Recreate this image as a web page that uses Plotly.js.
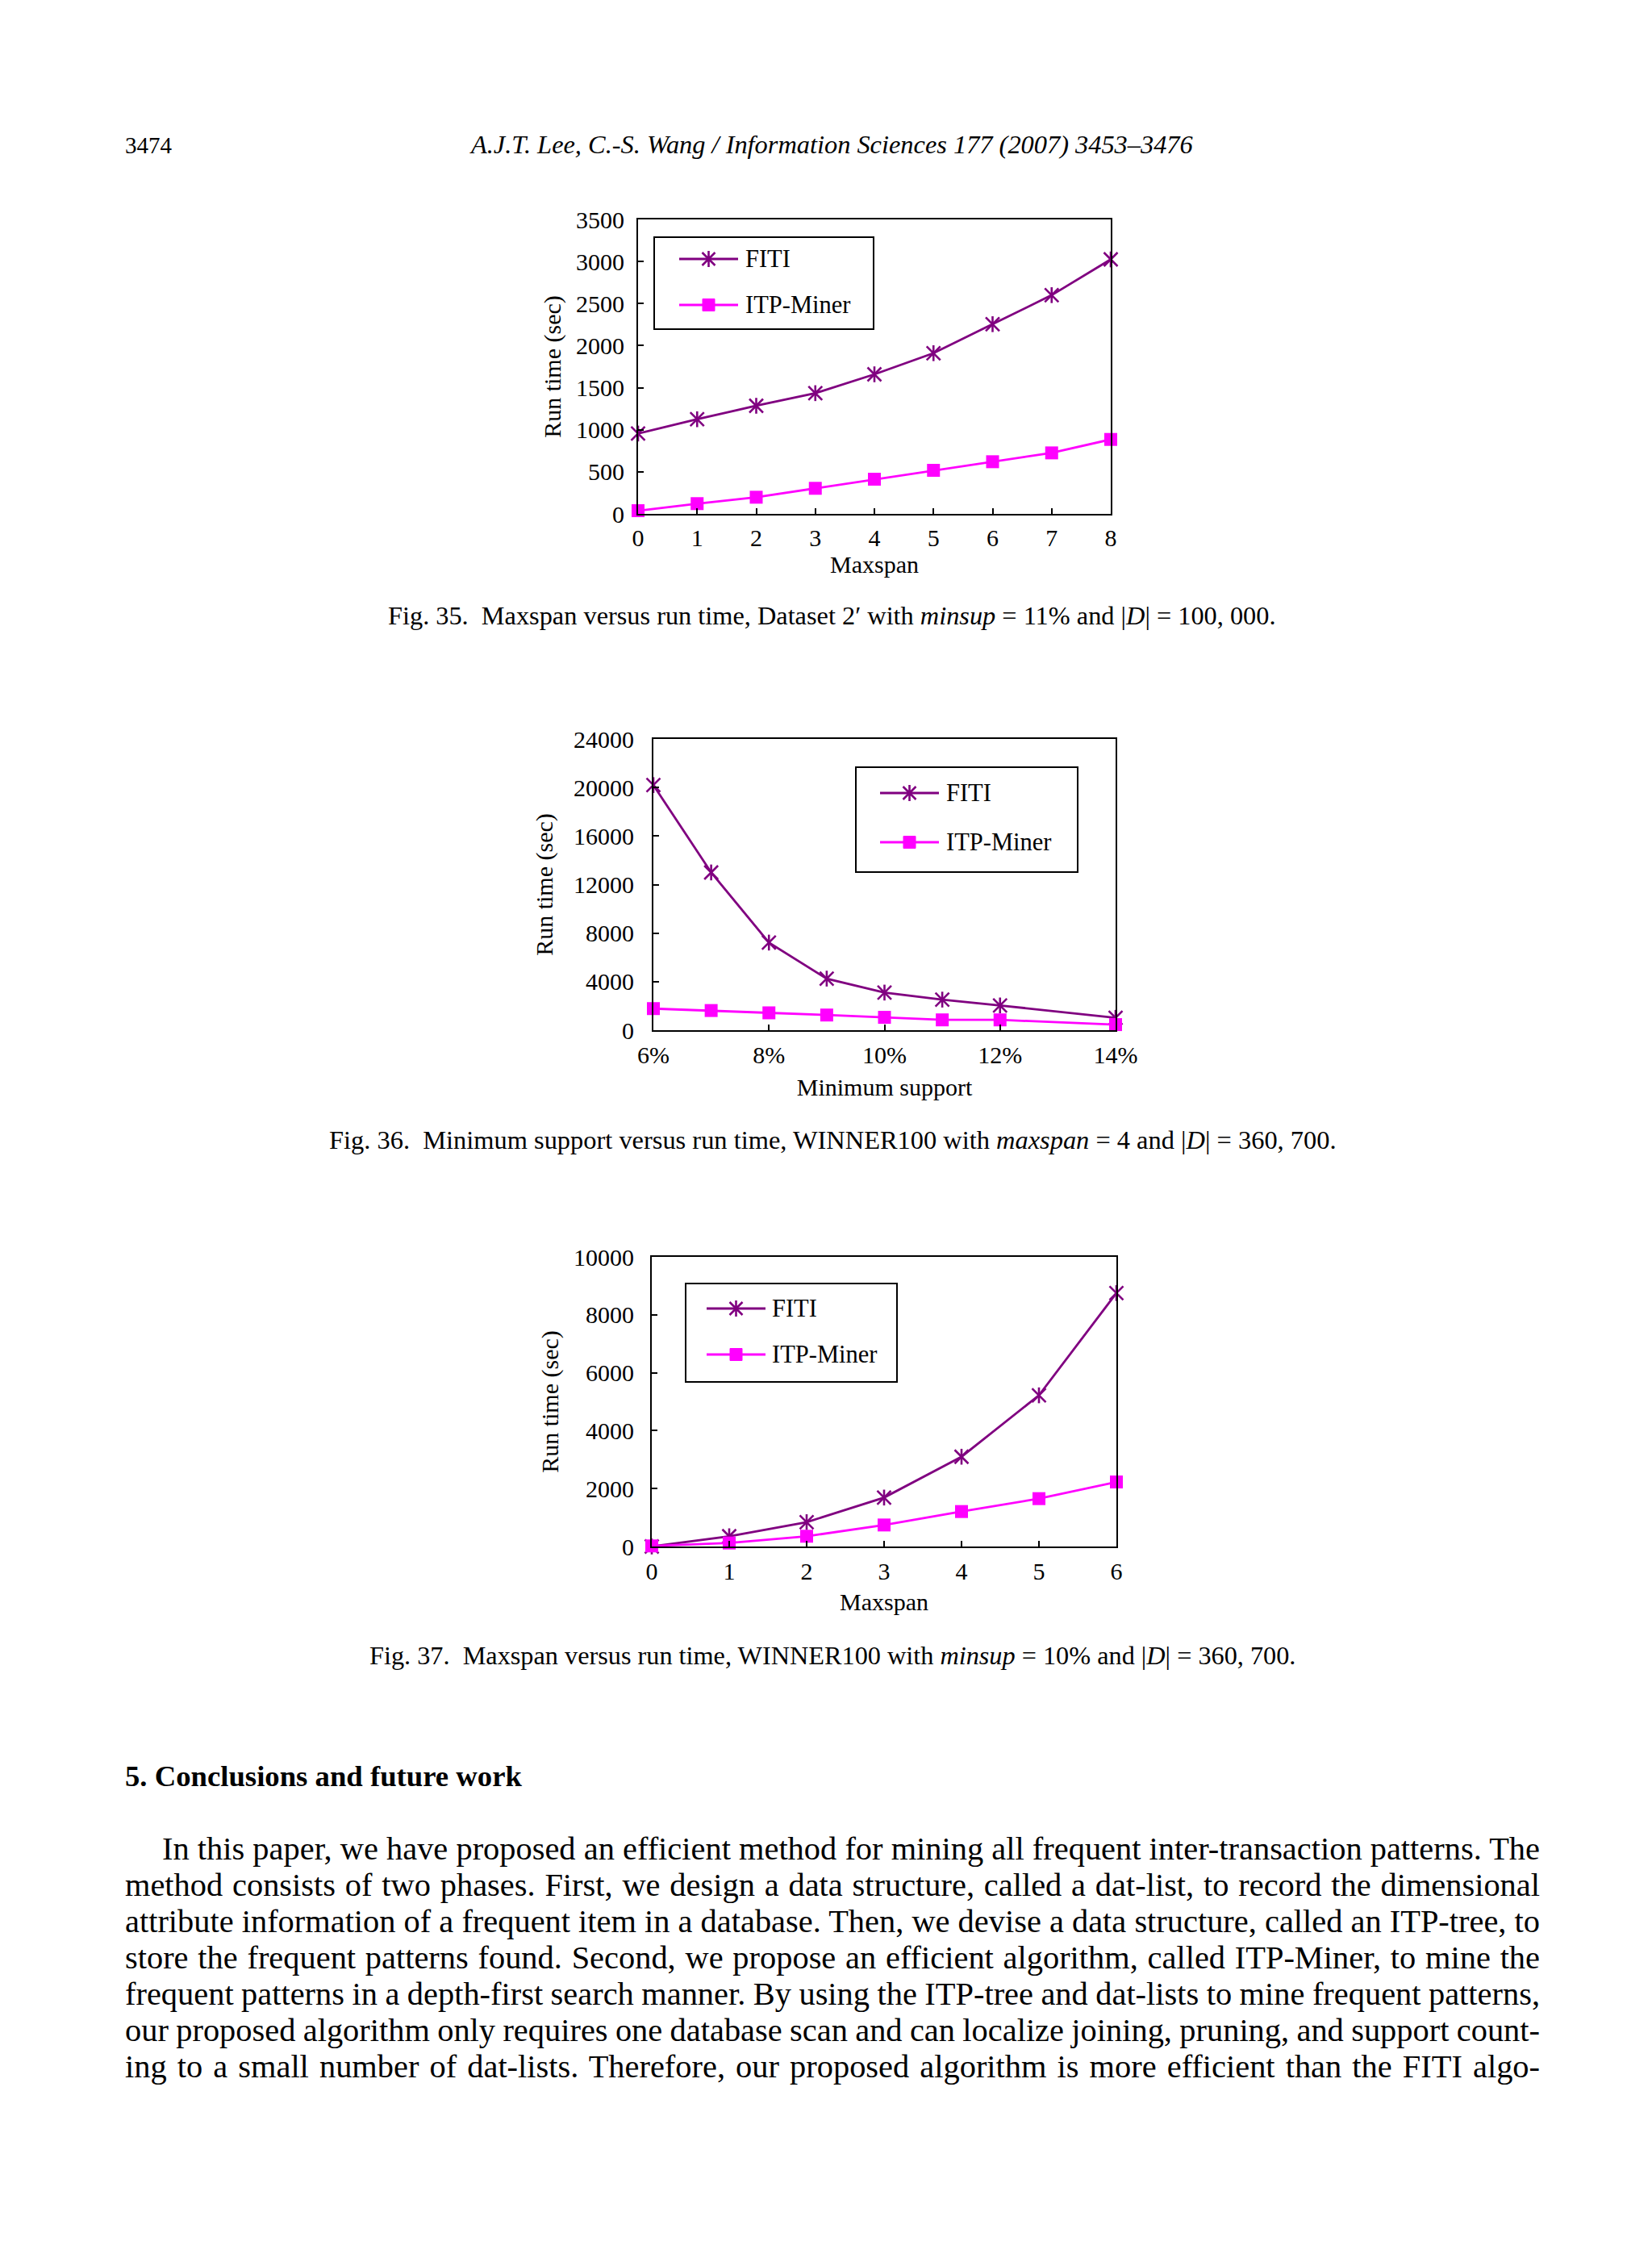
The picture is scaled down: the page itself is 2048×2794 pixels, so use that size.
<!DOCTYPE html>
<html>
<head>
<meta charset="utf-8">
<title>Figs. 35–37: FITI vs ITP-Miner run time</title>
<script src="https://cdn.plot.ly/plotly-3.0.1.min.js"></script>
<style>
  html, body { margin:0; padding:0; background:#ffffff; }
  body { width:2048px; height:2794px; position:relative; overflow:hidden;
         font-family:"Liberation Serif","Times New Roman",Times,serif; color:#000; }
  .t { position:absolute; white-space:nowrap; line-height:1; }
  .chart { position:absolute; }
</style>
</head>
<body>
<div class="t" id="pageNum">3474</div>
<div class="t" id="runHead"><i>A.J.T. Lee, C.-S. Wang / Information Sciences 177 (2007) 3453–3476</i></div>

<div class="chart" id="fig35"></div>
<div class="t" id="cap35">Fig. 35.&ensp;Maxspan versus run time, Dataset 2′ with <i>minsup</i> = 11% and |<i>D</i>| = 100, 000.</div>

<div class="chart" id="fig36"></div>
<div class="t" id="cap36">Fig. 36.&ensp;Minimum support versus run time, WINNER100 with <i>maxspan</i> = 4 and |<i>D</i>| = 360, 700.</div>

<div class="chart" id="fig37"></div>
<div class="t" id="cap37">Fig. 37.&ensp;Maxspan versus run time, WINNER100 with <i>minsup</i> = 10% and |<i>D</i>| = 360, 700.</div>

<div class="t" id="secHead"><b>5. Conclusions and future work</b></div>
<div id="bodyText"></div>

<script>
// ---------------- DATA ----------------
const seriesNames = ['FITI', 'ITP-Miner'];

// Fig. 35: Maxspan vs run time (Dataset 2')
const maxspan35 = [0, 1, 2, 3, 4, 5, 6, 7, 8];
const fiti35    = [955, 1125, 1285, 1435, 1659, 1910, 2255, 2600, 3025];
const itp35     = [38, 122, 198, 304, 412, 518, 620, 725, 885];

// Fig. 36: Minimum support (%) vs run time (WINNER100)
const minsup36         = [6, 7, 8, 9, 10, 11, 12, 14];
const fiti36           = [20200, 13000, 7220, 4250, 3100, 2520, 2040, 1020];
const itp36            = [1780, 1620, 1430, 1250, 1060, 850, 850, 460];
const minsupTickVals36 = [6, 8, 10, 12, 14];
const minsupTickText36 = ['6%', '8%', '10%', '12%', '14%'];

// Fig. 37: Maxspan vs run time (WINNER100)
const maxspan37 = [0, 1, 2, 3, 4, 5, 6];
const fiti37    = [0, 354, 840, 1690, 3100, 5220, 8750];
const itp37     = [20, 120, 354, 743, 1207, 1653, 2228];

const bodyLines = [
  'In this paper, we have proposed an efficient method for mining all frequent inter-transaction patterns. The',
  'method consists of two phases. First, we design a data structure, called a dat-list, to record the dimensional',
  'attribute information of a frequent item in a database. Then, we devise a data structure, called an ITP-tree, to',
  'store the frequent patterns found. Second, we propose an efficient algorithm, called ITP-Miner, to mine the',
  'frequent patterns in a depth-first search manner. By using the ITP-tree and dat-lists to mine frequent patterns,',
  'our proposed algorithm only requires one database scan and can localize joining, pruning, and support count-',
  'ing to a small number of dat-lists. Therefore, our proposed algorithm is more efficient than the FITI algo-'
];

// ---------------- STYLE ----------------
const FONT = '"Liberation Serif", "Times New Roman", Times, serif';
const FITI_COLOR = '#800080';
const ITP_COLOR  = '#FF00FF';
const STAR_PATH  = 'M0,-10L0,10M-8,-8L8,8M-8,8L8,-8';
const TICK_FS = 30, TITLE_FS = 30, LEGEND_FS = 30.5;
const LINE_W = 2.8;

const charts = [
  { id:'fig35', box:[791,1377,272,637], x:maxspan35, fiti:fiti35, itp:itp35,
    xr:[0,8], yr:[0,3500], xdtick:1, ydtick:500, xtitle:'Maxspan',
    xls:2, yls:9, xts:0, yts:10,
    legend:{box:[811,1083,294,408], rows:[321,378], line:[842,915], text:922} },
  { id:'fig36', box:[810,1383,916,1277], x:minsup36, fiti:fiti36, itp:itp36,
    xr:[6,14], yr:[0,24000], xtickvals:minsupTickVals36, xticktext:minsupTickText36, ydtick:4000,
    xtitle:'Minimum support',
    xls:3, yls:16, xts:14, yts:17,
    legend:{box:[1061,1336,951,1081], rows:[983,1044], line:[1091,1164], text:1171} },
  { id:'fig37', box:[808,1384,1558,1917], x:maxspan37, fiti:fiti37, itp:itp37,
    xr:[0,6], yr:[0,10000], xdtick:1, ydtick:2000, xtitle:'Maxspan',
    xls:3, yls:14, xts:12, yts:10,
    legend:{box:[850,1112,1591,1713], rows:[1622,1679], line:[876,949], text:955} }
];

function drawChart(c) {
  const [x0, x1, y0, y1] = c.box;
  const M = {l:230, r:70, t:50, b:130};
  const W = (x1 - x0) + M.l + M.r, H = (y1 - y0) + M.t + M.b;
  const div = document.getElementById(c.id);
  div.style.left = (x0 - M.l) + 'px';
  div.style.top = (y0 - M.t) + 'px';
  div.style.width = W + 'px';
  div.style.height = H + 'px';
  const px = p => (p - x0) / (x1 - x0);
  const py = p => (y1 - p) / (y1 - y0);
  const L = c.legend;
  const mid = (L.line[0] + L.line[1]) / 2;

  const traces = [
    { x:c.x, y:c.fiti, name:seriesNames[0], type:'scatter', mode:'lines+markers', cliponaxis:false,
      line:{color:FITI_COLOR, width:LINE_W},
      marker:{symbol:'x-thin-open', size:17, color:FITI_COLOR, line:{color:FITI_COLOR, width:2.6}} },
    { x:c.x, y:c.fiti, name:seriesNames[0], type:'scatter', mode:'markers', cliponaxis:false, showlegend:false,
      marker:{symbol:'line-ns-open', size:14, color:FITI_COLOR, line:{color:FITI_COLOR, width:2.6}} },
    { x:c.x, y:c.itp, name:seriesNames[1], type:'scatter', mode:'lines+markers', cliponaxis:false,
      line:{color:ITP_COLOR, width:LINE_W},
      marker:{symbol:'square', size:16, color:ITP_COLOR, line:{width:0}} }
  ];

  const shapes = [
    {type:'rect', xref:'paper', yref:'paper', x0:px(L.box[0]), x1:px(L.box[1]), y0:py(L.box[3]), y1:py(L.box[2]),
     line:{color:'#000', width:2}, fillcolor:'#ffffff', layer:'above'},
    {type:'line', xref:'paper', yref:'paper', x0:px(L.line[0]), x1:px(L.line[1]), y0:py(L.rows[0]), y1:py(L.rows[0]),
     line:{color:FITI_COLOR, width:LINE_W}},
    {type:'path', xref:'paper', yref:'paper', xsizemode:'pixel', ysizemode:'pixel',
     xanchor:px(mid), yanchor:py(L.rows[0]), path:STAR_PATH, line:{color:FITI_COLOR, width:2.6}},
    {type:'line', xref:'paper', yref:'paper', x0:px(L.line[0]), x1:px(L.line[1]), y0:py(L.rows[1]), y1:py(L.rows[1]),
     line:{color:ITP_COLOR, width:LINE_W}},
    {type:'rect', xref:'paper', yref:'paper', xsizemode:'pixel', ysizemode:'pixel',
     xanchor:px(mid), yanchor:py(L.rows[1]), x0:-7.5, x1:7.5, y0:-7.5, y1:7.5,
     fillcolor:ITP_COLOR, line:{color:ITP_COLOR, width:1}}
  ];

  const annotations = seriesNames.map((n, i) => ({
    xref:'paper', yref:'paper', x:px(L.text), y:py(L.rows[i]), xanchor:'left', yanchor:'middle',
    text:n, showarrow:false, font:{family:FONT, size:LEGEND_FS, color:'#000'}
  }));

  const axisBase = {
    ticks:'inside', ticklen:7, tickwidth:2, tickcolor:'#000',
    showline:true, linewidth:2, linecolor:'#000', mirror:true,
    showgrid:false, zeroline:false, fixedrange:true,
    tickfont:{family:FONT, size:TICK_FS, color:'#000'}
  };
  const xaxis = Object.assign({}, axisBase, {
    range:c.xr, ticklabelstandoff:c.xls,
    title:{text:c.xtitle, font:{family:FONT, size:TITLE_FS, color:'#000'}, standoff:c.xts}
  });
  if (c.xtickvals) { xaxis.tickmode = 'array'; xaxis.tickvals = c.xtickvals; xaxis.ticktext = c.xticktext; }
  else { xaxis.tickmode = 'linear'; xaxis.tick0 = c.xr[0]; xaxis.dtick = c.xdtick; }
  const yaxis = Object.assign({}, axisBase, {
    range:c.yr, tickmode:'linear', tick0:0, dtick:c.ydtick, tickformat:'d', ticklabelstandoff:c.yls,
    title:{text:'Run time (sec)', font:{family:FONT, size:TITLE_FS, color:'#000'}, standoff:c.yts}
  });

  const layout = {
    width:W, height:H, margin:{l:M.l, r:M.r, t:M.t, b:M.b, pad:0},
    paper_bgcolor:'rgba(0,0,0,0)', plot_bgcolor:'#ffffff',
    showlegend:false, font:{family:FONT, size:TICK_FS, color:'#000'},
    xaxis:xaxis, yaxis:yaxis, shapes:shapes, annotations:annotations
  };
  return Plotly.newPlot(div, traces, layout, {staticPlot:true, displayModeBar:false});
}

charts.forEach(drawChart);

// ---------------- PAGE TEXT ----------------
function fitText(id, left, right, baseline) {
  const el = document.getElementById(id);
  let fs = 30;
  el.style.fontSize = fs + 'px';
  const w = el.getBoundingClientRect().width;
  fs = fs * (right - left) / w;
  el.style.fontSize = fs + 'px';
  el.style.left = left + 'px';
  el.style.top = (baseline - 0.8375 * fs) + 'px';
  return fs;
}

function layoutText() {
  fitText('pageNum', 155, 213, 190);
  fitText('runHead', 584, 1479, 190);
  fitText('cap35', 481, 1582, 774);
  fitText('cap36', 408, 1657, 1424);
  fitText('cap37', 458, 1607, 2063);
  fitText('secHead', 155, 647, 2215);

  const host = document.getElementById('bodyText');
  host.innerHTML = '';
  const left = 155, right = 1909, indent = 46;
  const probeFs = 40;
  const els = [], ratios = [];
  bodyLines.forEach((txt, i) => {
    const d = document.createElement('div');
    d.className = 't';
    d.textContent = txt;
    d.style.fontSize = probeFs + 'px';
    host.appendChild(d);
    const lx = left + (i === 0 ? indent : 0);
    const w = d.getBoundingClientRect().width;
    ratios.push((right - lx) / w);
    els.push({d, lx, txt});
  });
  const sorted = ratios.slice().sort((a, b) => a - b);
  const fs = probeFs * sorted[Math.floor(sorted.length / 2)];
  els.forEach((o, i) => {
    const d = o.d;
    d.style.fontSize = fs + 'px';
    d.style.wordSpacing = '0px';
    d.style.left = o.lx + 'px';
    const base = 2306 + i * 44.9;
    d.style.top = (base - 0.8375 * fs) + 'px';
    const w = d.getBoundingClientRect().width;
    const nSp = (o.txt.match(/ /g) || []).length;
    if (nSp > 0) d.style.wordSpacing = ((right - o.lx - w) / nSp) + 'px';
  });
}
layoutText();
if (document.fonts && document.fonts.ready) document.fonts.ready.then(layoutText);
</script>
</body>
</html>
